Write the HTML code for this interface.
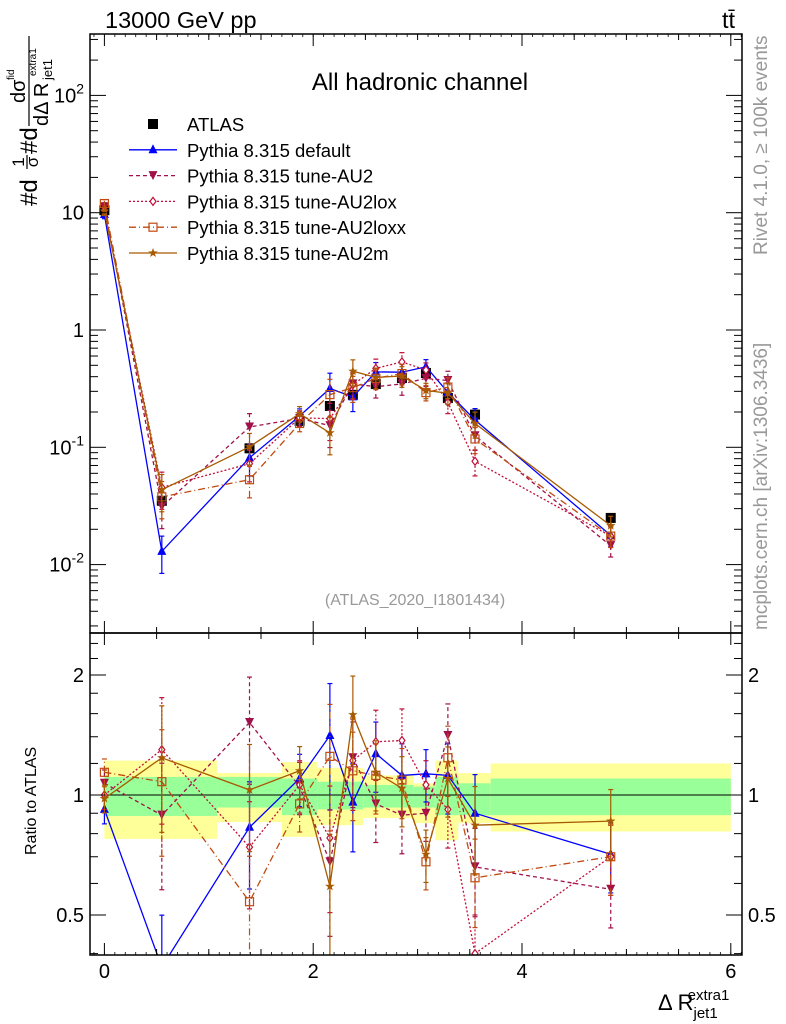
<!DOCTYPE html>
<html><head><meta charset="utf-8"><style>
html,body{margin:0;padding:0;background:#fff;}
svg{display:block;font-family:"Liberation Sans",sans-serif;}
</style></head><body>
<svg id="c" width="786" height="1024" viewBox="0 0 786 1024"></svg>
<script>
const xs = [0.0,0.55,1.39,1.87,2.16,2.38,2.6,2.85,3.08,3.29,3.55,4.85];
const atlas = [10.5,0.035,0.098,0.168,0.225,0.28,0.346,0.39,0.43,0.263,0.19,0.025];
const atlasErr = [0.03,0.12,0.1,0.08,0.12,0.1,0.07,0.07,0.06,0.1,0.1,0.1];
const rDefault = [0.92,0.37,0.83,1.10,1.41,0.96,1.27,1.12,1.13,1.12,0.90,0.71];
const rAU2 = [1.07,0.89,1.52,1.05,0.68,1.24,0.95,0.89,0.90,1.41,0.66,0.58];
const rAU2lox = [1.00,1.30,0.74,1.06,0.78,1.22,1.36,1.37,1.06,0.92,0.40,0.70];
const rAU2loxx = [1.14,1.08,0.54,0.95,1.25,1.15,1.12,1.09,0.68,1.24,0.62,0.70];
const rAU2m = [0.98,1.24,1.03,1.15,0.59,1.59,1.14,1.04,0.71,1.10,0.84,0.86];
const mcErr = [0.08,0.35,0.3,0.15,0.35,0.25,0.2,0.2,0.15,0.2,0.25,0.2];
const binEdges = [0,1.08,1.70,2.04,2.48,2.96,3.17,3.39,3.70,6.0];
const totLo = [0.776,0.855,0.785,0.84,0.875,0.85,0.77,0.85,0.81];
const totHi = [1.22,1.135,1.21,1.17,1.12,1.07,1.22,1.135,1.20];
const statLo = [0.886,0.93,0.89,0.92,0.93,0.93,0.89,0.89,0.89];
const statHi = [1.11,1.11,1.10,1.08,1.06,1.05,1.11,1.07,1.10];
const yMainTicks = ["10^-2","10^-1","1","10","10^2"];

const NS="http://www.w3.org/2000/svg";
const svg=document.getElementById('c');
const L=90,R=742,T=34,MB=633,B=955;
const X=v=>104.4+104.4*v;
const Ym=v=>330-117.3*Math.log10(v);
const Yr=v=>795-120*Math.log2(v);
function el(t,a,p){const e=document.createElementNS(NS,t);for(const k in a)e.setAttribute(k,a[k]);(p||svg).appendChild(e);return e;}
function txt(s,x,y,sz,extra,p){const e=el('text',Object.assign({x:x,y:y,'font-size':sz},extra||{}),p);e.textContent=s;return e;}

const defs=el('defs',{});
const c1=el('clipPath',{id:'cm'},defs);el('rect',{x:L,y:T,width:R-L,height:MB-T},c1);
const c2=el('clipPath',{id:'cr'},defs);el('rect',{x:L,y:MB,width:R-L,height:B-MB},c2);

const gb=el('g',{'clip-path':'url(#cr)'});


for(let i=0;i<totLo.length;i++){
  const x1=X(binEdges[i]),x2=X(binEdges[i+1]);
  const y=el('rect',{x:x1,y:Yr(totHi[i]),width:x2-x1,height:Yr(totLo[i])-Yr(totHi[i]),fill:'#ffff99'},gb);
  
  
  const g=el('rect',{x:x1,y:Yr(statHi[i]),width:x2-x1,height:Yr(statLo[i])-Yr(statHi[i]),fill:'#99ff99'},gb);
  
  
}
el('line',{x1:L,x2:R,y1:Yr(1),y2:Yr(1),stroke:'#000','stroke-width':1});

function marker(g,type,x,y,col){
  const s=4.5;let m;
  if(type==='sq') m=el('rect',{x:x-5,y:y-5,width:10,height:10,fill:col},g);
  else if(type==='up') m=el('polygon',{points:`${x},${y-s-1} ${x-s},${y+s-1} ${x+s},${y+s-1}`,fill:col},g);
  else if(type==='down') m=el('polygon',{points:`${x},${y+s} ${x-s},${y-s} ${x+s},${y-s}`,fill:col},g);
  else if(type==='dia') m=el('polygon',{points:`${x},${y-4} ${x-3},${y} ${x},${y+4} ${x+3},${y}`,fill:'#fff',stroke:col,'stroke-width':1.2},g);
  else if(type==='osq') m=el('rect',{x:x-4,y:y-4,width:8,height:8,fill:'none',stroke:col,'stroke-width':1.2},g);
  else if(type==='star'){let p=[];for(let k=0;k<10;k++){const r=k%2?2:5,a=-Math.PI/2+k*Math.PI/5;p.push((x+r*Math.cos(a)).toFixed(1)+','+(y+r*Math.sin(a)).toFixed(1));}m=el('polygon',{points:p.join(' '),fill:col},g);}
  
  
}
const series=[
 {name:'default',r:rDefault,col:'#0000ff',m:'up',dash:''},
 {name:'au2',r:rAU2,col:'#a0104a',m:'down',dash:'4,3'},
 {name:'au2lox',r:rAU2lox,col:'#c0103a',m:'dia',dash:'2,2'},
 {name:'au2loxx',r:rAU2loxx,col:'#c04a10',m:'osq',dash:'7,3,1,3'},
 {name:'au2m',r:rAU2m,col:'#a85a00',m:'star',dash:''}
];
function drawSeries(clip,Yf,vals,errs,s,name){
  const g=el('g',{'clip-path':`url(#${clip})`});
  
  
  let pts=xs.map((x,i)=>X(x).toFixed(1)+','+Yf(vals[i]).toFixed(1)).join(' ');
  el('polyline',{points:pts,fill:'none',stroke:s.col,'stroke-width':1.3,'stroke-dasharray':s.dash},g);
  xs.forEach((x,i)=>{
    const px=X(x),lo=Yf(vals[i]*(1-errs[i])),hi=Yf(vals[i]*(1+errs[i]));
    el('line',{x1:px,x2:px,y1:lo,y2:hi,stroke:s.col,'stroke-width':1.2,'stroke-dasharray':s.dash},g);
    el('line',{x1:px-2.5,x2:px+2.5,y1:lo,y2:lo,stroke:s.col,'stroke-width':1.2},g);
    el('line',{x1:px-2.5,x2:px+2.5,y1:hi,y2:hi,stroke:s.col,'stroke-width':1.2},g);
    marker(g,s.m,px,Yf(vals[i]),s.col);
  });
}
(function(){
  const g=el('g',{'clip-path':'url(#cm)'});
  
  
  xs.forEach((x,i)=>{const px=X(x);
    el('line',{x1:px,x2:px,y1:Ym(atlas[i]*(1-atlasErr[i])),y2:Ym(atlas[i]*(1+atlasErr[i])),stroke:'#000','stroke-width':1.2},g);
    marker(g,'sq',px,Ym(atlas[i]),'#000');});
})();
series.forEach(s=>{
  drawSeries('cm',Ym,atlas.map((a,i)=>a*s.r[i]),mcErr,s,'main-series-'+s.name);
  drawSeries('cr',Yr,s.r,mcErr,s,'ratio-series-'+s.name);
});

el('rect',{x:L,y:T,width:R-L,height:MB-T,fill:'none',stroke:'#000','stroke-width':1.5});
el('rect',{x:L,y:MB,width:R-L,height:B-MB,fill:'none',stroke:'#000','stroke-width':1.5});
for(let v=0;v<=6.01;v+=0.5){const px=X(v);const maj=Math.abs(v-Math.round(v))<0.01&&Math.round(v)%2===0;const len=maj?12:6;
  [[T,1],[MB,-1],[MB,1],[B,-1]].forEach(([y,d])=>el('line',{x1:px,x2:px,y1:y,y2:y+d*len,stroke:'#000','stroke-width':1}));}
for(let v=-0.1;v<6.1;v+=0.1){const px=X(v);if(px<L||px>R)continue;[[T,1],[B,-1]].forEach(([y,d])=>el('line',{x1:px,x2:px,y1:y,y2:y+d*3,stroke:'#000','stroke-width':0.8}));}
[0,2,4,6].forEach(v=>{const t=txt(String(v),X(v),978,20,{'text-anchor':'middle'});});
for(let e=-3;e<=2;e++){for(let m=1;m<=9;m++){const v=m*Math.pow(10,e);const y=Ym(v);if(y<T||y>MB)continue;const len=m===1?16:8;
  el('line',{x1:L,x2:L+len,y1:y,y2:y,stroke:'#000'});el('line',{x1:R,x2:R-len,y1:y,y2:y,stroke:'#000'});}}
const ylv=[0.01,0.1,1,10,100];
yMainTicks.forEach((s,i)=>{const y=Ym(ylv[i])+7;
  let t;
  if(s.indexOf('^')>0){const [b,e]=s.split('^');t=txt('',84,y,20,{'text-anchor':'end'});
    const a=el('tspan',{},t);a.textContent=b;const c=el('tspan',{dy:-9,'font-size':14},t);c.textContent=e;}
  else t=txt(s,84,y,20,{'text-anchor':'end'});
  });
[0.4,0.5,0.6,0.7,0.8,0.9,1,1.2,1.4,1.6,1.8,2,2.2,2.4].forEach(v=>{const y=Yr(v);if(y<MB||y>B)return;const len=(v===0.5||v===1||v===2)?16:8;
  el('line',{x1:L,x2:L+len,y1:y,y2:y,stroke:'#000'});el('line',{x1:R,x2:R-len,y1:y,y2:y,stroke:'#000'});});
[[0.5,'0.5'],[1,'1'],[2,'2']].forEach(([v,s])=>{txt(s,84,Yr(v)+7,20,{'text-anchor':'end',});txt(s,748,Yr(v)+7,20,{});});

txt('13000 GeV pp',105,28,23.5,{});
txt('tt̄',735,28,23.5,{'text-anchor':'end',});
txt('All hadronic channel',420,90,24,{'text-anchor':'middle',});
txt('(ATLAS_2020_I1801434)',415,605,16,{'text-anchor':'middle',fill:'#999',});
txt('Rivet 4.1.0, ≥ 100k events',767,255,19,{'text-anchor':'start',fill:'#999',transform:'rotate(-90 767 255)',});
txt('mcplots.cern.ch [arXiv:1306.3436]',767,630,19,{fill:'#999',transform:'rotate(-90 767 630)',});
txt('Ratio to ATLAS',36,855,16,{transform:'rotate(-90 36 855)',});
(function(){
  const g=el('g',{transform:'translate(0,206) rotate(-90)'});
  
  
  txt('#d',0,37,24,{},g);
  txt('1',44,24,17,{'text-anchor':'middle'},g);
  el('line',{x1:37,x2:51,y1:27,y2:27,stroke:'#000','stroke-width':1.2},g);
  txt('σ',44,38,17,{'text-anchor':'middle'},g);
  txt('#d',52,37,24,{},g);
  txt('dσ',103,25,20,{},g);
  txt('fid',126,14,10,{},g);
  el('line',{x1:80,x2:170,y1:29,y2:29,stroke:'#000','stroke-width':1.2},g);
  txt('dΔ R',80,48,20,{},g);
  txt('jet1',126,52,13,{},g);
  txt('extra1',130,36,10,{},g);
})();
(function(){const t=txt('',658,1010,22,{});
 const a=el('tspan',{},t);a.textContent='Δ R';const b=el('tspan',{'font-size':15,dy:8},t);b.textContent='jet1';const c=el('tspan',{'font-size':15,dy:-18,dx:-30},t);c.textContent='extra1';})();

const lg=el('g',{});


const lrows=[['ATLAS',null],['Pythia 8.315 default',series[0]],['Pythia 8.315 tune-AU2',series[1]],['Pythia 8.315 tune-AU2lox',series[2]],['Pythia 8.315 tune-AU2loxx',series[3]],['Pythia 8.315 tune-AU2m',series[4]]];
lrows.forEach(([s,se],i)=>{const y=124+i*25.8;
  const g=el('g',{},lg);
  
  
  if(se){el('line',{x1:129,x2:177,y1:y,y2:y,stroke:se.col,'stroke-width':1.3,'stroke-dasharray':se.dash},g);marker(g,se.m,153,y,se.col);}
  else marker(g,'sq',153,y,'#000');
  txt(s,187,y+7,18.5,{},g);
});
</script>
</body></html>
